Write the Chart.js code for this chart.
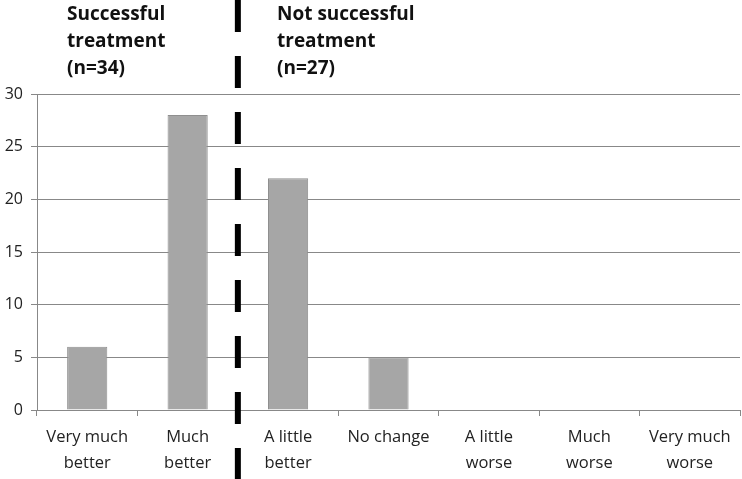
<!DOCTYPE html>
<html><head><meta charset="utf-8">
<script src="https://cdn.jsdelivr.net/npm/chart.js@4"></script>
<style>html,body{margin:0;padding:0;background:#fff}#wrap{width:742px;height:479px}</style>
</head><body><div id="wrap"><canvas id="c" width="742" height="479"></canvas></div>
<script>
const categories = [["Very much","better"],["Much","better"],["A little","better"],"No change",["A little","worse"],["Much","worse"],["Very much","worse"]];
const counts = [6, 28, 22, 5, 0, 0, 0];
const yTicks = [0, 5, 10, 15, 20, 25, 30];
const leftNote = ["Successful","treatment","(n=34)"];
const rightNote = ["Not successful","treatment","(n=27)"];
const FONT = "'Open Sans', 'Noto Sans', sans-serif";

const overlay = {
  id: 'overlay',
  afterDraw(chart) {
    const ctx = chart.ctx, x = chart.scales.x;
    const xd = (x.getPixelForValue(1) + x.getPixelForValue(2)) / 2;
    ctx.save();
    ctx.strokeStyle = '#000'; ctx.lineWidth = 6;
    ctx.setLineDash([32, 24]);
    ctx.beginPath(); ctx.moveTo(xd, 0); ctx.lineTo(xd, chart.height); ctx.stroke();
    ctx.setLineDash([]);
    ctx.fillStyle = '#111';
    ctx.font = "bold 19px " + FONT;
    ctx.textBaseline = 'middle'; ctx.textAlign = 'left';
    leftNote.forEach((t, i) => ctx.fillText(t, 67, 15 + i * 27));
    rightNote.forEach((t, i) => ctx.fillText(t, 277, 15 + i * 27));
    ctx.restore();
  }
};

new Chart(document.getElementById('c'), {
  type: 'bar',
  data: { labels: categories, datasets: [{ data: counts, backgroundColor: '#a6a6a6', borderColor: '#8f8f8f', borderWidth: 1, barPercentage: 0.4, categoryPercentage: 1 }] },
  options: {
    responsive: false, animation: false,
    layout: { padding: { top: 94, right: 2, left: 0, bottom: 0 } },
    plugins: { legend: { display: false }, tooltip: { enabled: false } },
    scales: {
      x: {
        offset: true,
        grid: { offset: true, drawOnChartArea: false, drawTicks: true, tickLength: 6, color: '#888' },
        border: { color: '#888', width: 1 },
        ticks: { color: '#222', font: { family: FONT, size: 16.5, lineHeight: 1.55 }, padding: 9, maxRotation: 0, autoSkip: false },
        afterFit(s) { s.height = 69; }
      },
      y: {
        min: 0, max: 30,
        afterBuildTicks(s) { s.ticks = yTicks.map(v => ({ value: v })); },
        grid: { color: '#888', lineWidth: 1, drawTicks: true, tickLength: 6 },
        border: { color: '#888', width: 1 },
        ticks: { color: '#222', font: { family: FONT, size: 16 }, padding: 8 },
        afterFit(s) { s.width = 37; }
      }
    }
  },
  plugins: [overlay]
});
</script></body></html>
